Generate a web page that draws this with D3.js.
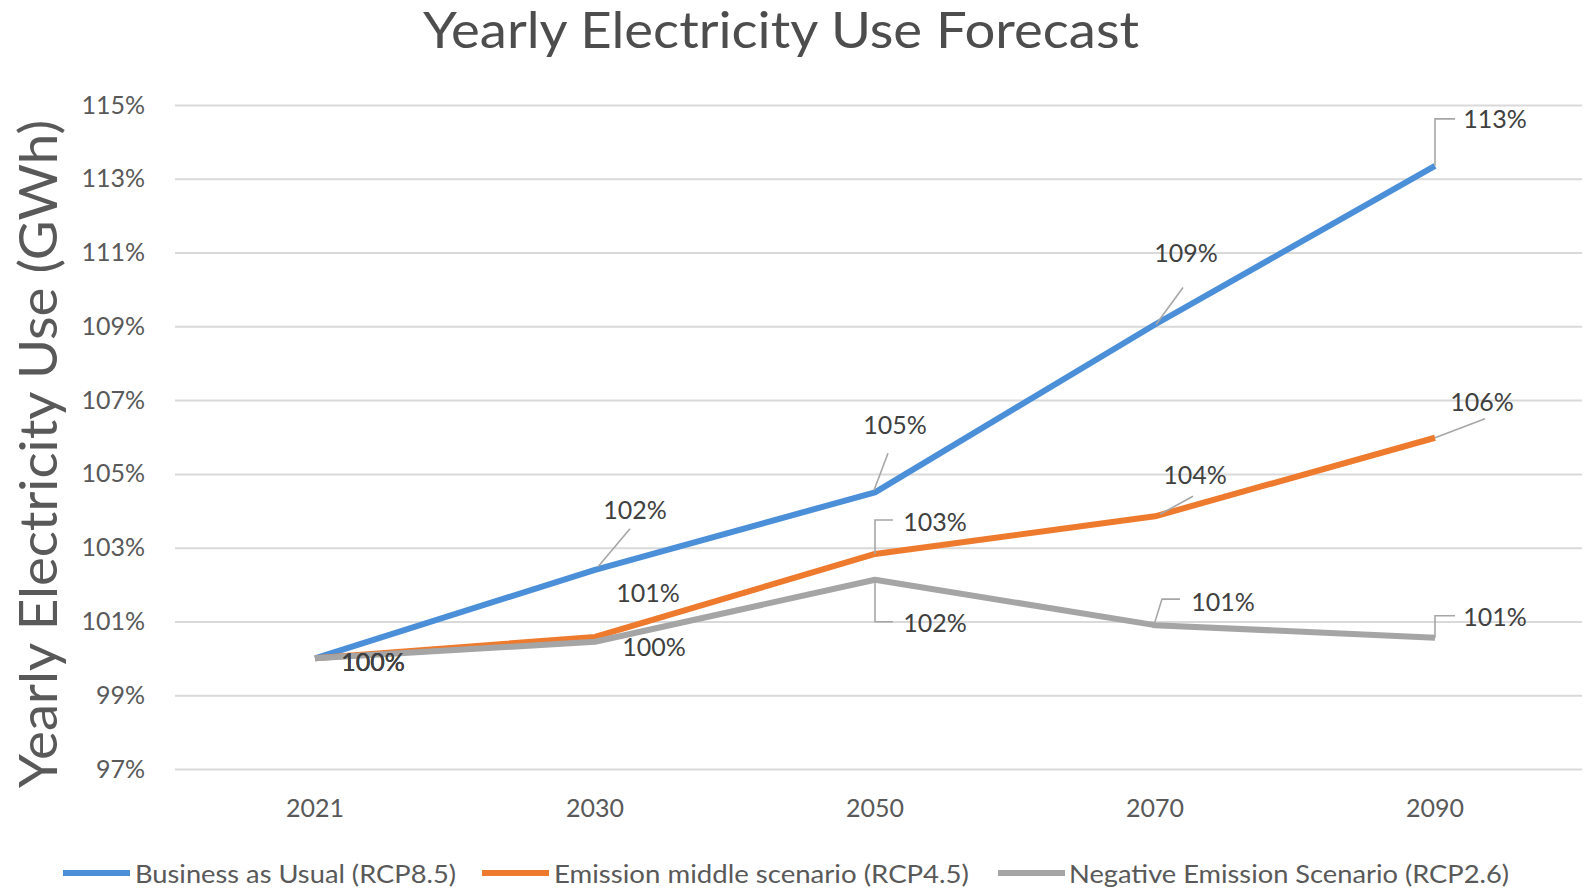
<!DOCTYPE html>
<html>
<head>
<meta charset="utf-8">
<script src="https://cdn.jsdelivr.net/npm/d3@7"></script>
<style>
  html, body { margin: 0; padding: 0; background: #ffffff; }
  svg { display: block; }
  text { font-family: Lato, "Open Sans", "Liberation Sans", sans-serif; }
</style>
</head>
<body>
<svg id="chart" width="1588" height="894"></svg>
<script>
// ---- data ----
const years = ["2021", "2030", "2050", "2070", "2090"];
const businessAsUsual = [100.0, 102.4, 104.5, 109.05, 113.35];
const emissionMiddle = [100.0, 100.58, 102.83, 103.85, 105.98];
const negativeEmission = [100.0, 100.45, 102.13, 100.9, 100.56];
const businessLabels = ["100%", "102%", "105%", "109%", "113%"];
const middleLabels = ["100%", "101%", "103%", "104%", "106%"];
const negativeLabels = ["100%", "100%", "102%", "101%", "101%"];
const seriesNames = ["Business as Usual (RCP8.5)", "Emission middle scenario (RCP4.5)", "Negative Emission Scenario (RCP2.6)"];
const yTicks = [97, 99, 101, 103, 105, 107, 109, 111, 113, 115];
const chartTitle = "Yearly Electricity Use Forecast";
const yAxisTitle = "Yearly Electricity Use (GWh)";

// ---- layout / style (not data) ----
const colors = ["#4a8fd8", "#ee7a2e", "#a5a5a5"];
const textColor = "#595959";
// label offsets relative to the data point [dx, dy], and leader polylines (relative)
const labelLayout = [
  { off: [[58, 3], [40, -61], [20, -68], [31, -72], [60, -48]],
    lead: [null, [[3, -3], [35, -41]], [[-1, -2], [13, -39]], [[1, 0], [28, -37]], [[0, 0], [0, -47], [20, -47]]] },
  { off: [[58, 3], [53, -45], [60, -33], [40, -42], [47, -37]],
    lead: [null, null, [[0, 0], [0, -34], [18, -34]], [[5, -2], [38, -20]], [[0, 0], [50, -19]]] },
  { off: [[58, 3], [59, 4], [60, 42], [68, -24], [60, -22]],
    lead: [null, null, [[0, 0], [0, 42], [18, 42]], [[-2, 3], [7, -26], [25, -26]], [[0, 0], [0, -22], [20, -22]]] }
];

const svg = d3.select("#chart");
const plot = { left: 175, right: 1575, top: 105, bottom: 769 };

const x = d3.scaleBand().domain(years).range([plot.left, plot.right]).paddingInner(0).paddingOuter(0);
const xc = d => x(d) + x.bandwidth() / 2;
const y = d3.scaleLinear().domain([97, 115]).range([plot.bottom, plot.top]);

// title
svg.append("text")
  .attr("x", 781).attr("y", 48)
  .attr("text-anchor", "middle")
  .attr("font-size", 50)
  .attr("fill", "#4d4d4d")
  .attr("textLength", 716).attr("lengthAdjust", "spacingAndGlyphs")
  .text(chartTitle);

// y axis title
svg.append("text")
  .attr("transform", "translate(57,454) rotate(-90)")
  .attr("text-anchor", "middle")
  .attr("font-size", 52)
  .attr("fill", "#595959")
  .attr("textLength", 668).attr("lengthAdjust", "spacingAndGlyphs")
  .text(yAxisTitle);

// gridlines + y axis labels
const yAxis = d3.axisLeft(y).tickValues(yTicks).tickFormat(d => d + "%")
  .tickSize(-(1582 - plot.left)).tickPadding(30);
const gy = svg.append("g").attr("transform", `translate(${plot.left},0)`).call(yAxis);
gy.select(".domain").remove();
gy.selectAll(".tick line").attr("stroke", "#d9d9d9").attr("stroke-width", 2);
gy.selectAll(".tick text").attr("font-size", 25).attr("fill", textColor)
  .attr("font-family", "Lato, 'Open Sans', sans-serif");

// x axis labels
const xAxis = d3.axisBottom(x).tickSize(0).tickPadding(0);
const gx = svg.append("g").attr("transform", `translate(0,${plot.bottom})`).call(xAxis);
gx.select(".domain").remove();
gx.selectAll(".tick text").attr("font-size", 25).attr("fill", textColor)
  .attr("dy", null).attr("y", 38).attr("dominant-baseline", "central")
  .attr("font-family", "Lato, 'Open Sans', sans-serif");

// lines
const allSeries = [businessAsUsual, emissionMiddle, negativeEmission];
const allLabels = [businessLabels, middleLabels, negativeLabels];
const line = d3.line().x((d, i) => xc(years[i])).y(d => y(d));

allSeries.forEach((s, k) => {
  svg.append("path").datum(s)
    .attr("d", line)
    .attr("fill", "none")
    .attr("stroke", colors[k])
    .attr("stroke-width", 6)
    .attr("stroke-linejoin", "round");
});

// leader lines
allSeries.forEach((s, k) => {
  s.forEach((v, i) => {
    const pts = labelLayout[k].lead[i];
    if (!pts) return;
    const px = xc(years[i]), py = y(v);
    svg.append("path")
      .attr("d", d3.line()(pts.map(p => [px + p[0], py + p[1]])))
      .attr("fill", "none").attr("stroke", "#a6a6a6").attr("stroke-width", 1.6);
  });
});

// data labels
allSeries.forEach((s, k) => {
  s.forEach((v, i) => {
    const o = labelLayout[k].off[i];
    svg.append("text")
      .attr("x", xc(years[i]) + o[0])
      .attr("y", y(v) + o[1])
      .attr("text-anchor", "middle")
      .attr("dominant-baseline", "central")
      .attr("font-size", 25)
      .attr("fill", "#404040")
      .text(allLabels[k][i]);
  });
});

// legend
const legendItems = [
  { lx: 63, tx: 135, tw: 321 },
  { lx: 482, tx: 554, tw: 415 },
  { lx: 998, tx: 1069, tw: 440 }
];
const legendY = 873;
legendItems.forEach((it, k) => {
  svg.append("line")
    .attr("x1", it.lx).attr("x2", it.lx + 67)
    .attr("y1", legendY).attr("y2", legendY)
    .attr("stroke", colors[k]).attr("stroke-width", 6);
  svg.append("text")
    .attr("x", it.tx).attr("y", legendY)
    .attr("dominant-baseline", "central")
    .attr("font-size", 25)
    .attr("fill", textColor)
    .attr("textLength", it.tw).attr("lengthAdjust", "spacingAndGlyphs")
    .text(seriesNames[k]);
});
</script>
</body>
</html>
